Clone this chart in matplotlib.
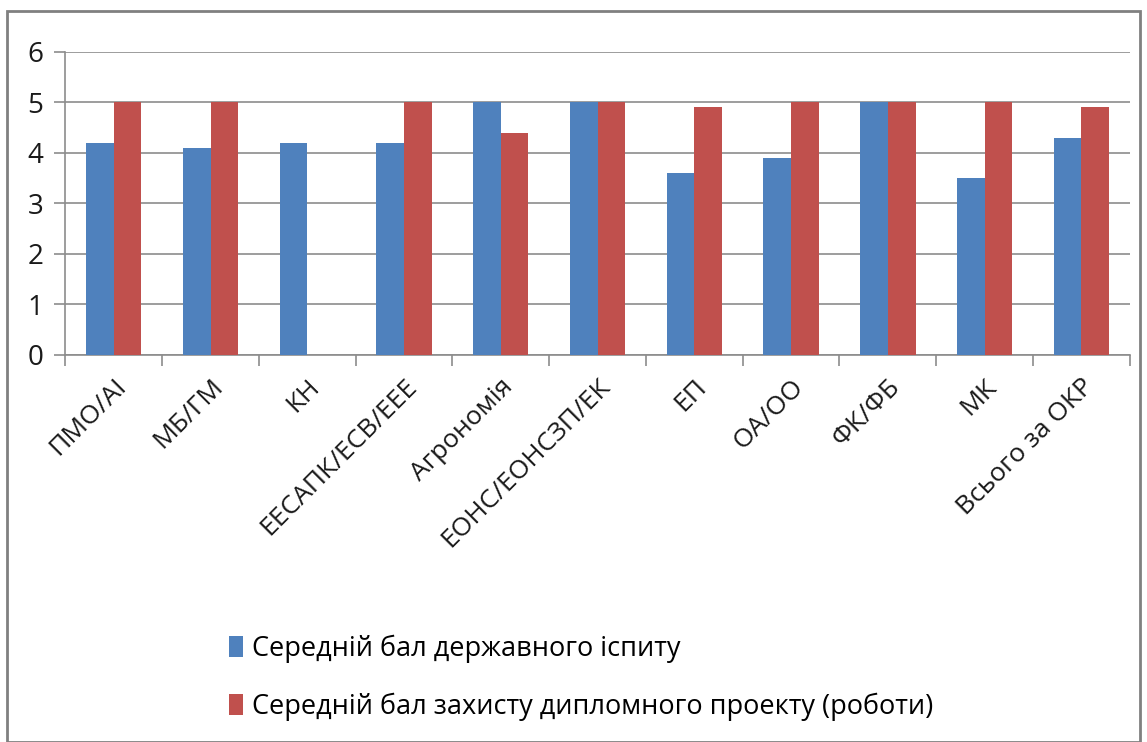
import matplotlib.pyplot as plt
import numpy as np
from matplotlib.patches import Rectangle

plt.rcParams['font.family'] = ['Open Sans', 'DejaVu Sans']

categories = ['ПМО/АІ', 'МБ/ГМ', 'КН', 'ЕЕСАПК/ЕСВ/ЕЕЕ', 'Агрономія',
              'ЕОНС/ЕОНСЗП/ЕК', 'ЕП', 'ОА/ОО', 'ФК/ФБ', 'МК', 'Всього за ОКР']
exam = [4.2, 4.1, 4.2, 4.2, 5.0, 5.0, 3.6, 3.9, 5.0, 3.5, 4.3]
thesis = [5.0, 5.0, 0, 5.0, 4.4, 5.0, 4.9, 5.0, 5.0, 5.0, 4.9]
series_names = ['Середній бал державного іспиту',
                'Середній бал захисту дипломного проекту (роботи)']

fig = plt.figure(figsize=(11.47, 7.42), dpi=100)
ax = fig.add_axes([0.057, 0.522, 0.928, 0.408])

x = np.arange(len(categories))
w = 0.286
b1 = ax.bar(x - w / 2, exam, w, color='#4f81bd', label=series_names[0], zorder=3)
b2 = ax.bar(x + w / 2, thesis, w, color='#c0504d', label=series_names[1], zorder=3)

ax.set_xlim(-0.5, len(categories) - 0.5)
ax.set_ylim(0, 6)
ax.set_yticks(range(7))
ax.yaxis.grid(True, color='#8c8c8c', linewidth=1.2, zorder=0)
for s in ['top', 'right']:
    ax.spines[s].set_visible(False)
for s in ['left', 'bottom']:
    ax.spines[s].set_color('#8c8c8c')
    ax.spines[s].set_linewidth(1.2)

ax.set_xticks(np.arange(len(categories) + 1) - 0.5)
ax.set_xticklabels([])
ax.set_xticks(x, minor=True)
ax.set_xticklabels(categories, minor=True, rotation=45, ha='right',
                   rotation_mode='anchor', fontsize=19, color='#1a1a1a')
ax.tick_params(axis='x', which='major', length=8, color='#8c8c8c', width=1.2)
ax.tick_params(axis='x', which='minor', length=0, pad=14)
ax.tick_params(axis='y', length=8, color='#8c8c8c', width=1.2, labelsize=20,
               pad=8, labelcolor='#1a1a1a')

fig.legend(handles=[b1, b2], loc='upper left', bbox_to_anchor=(0.178, 0.178),
           frameon=False, fontsize=19.5, handlelength=0.55, handleheight=0.8,
           handletextpad=0.3, labelspacing=1.1)

fig.patches.append(Rectangle((0.006, 0.0), 0.988, 0.985, transform=fig.transFigure,
                             fill=False, edgecolor='#808080', linewidth=2))

plt.savefig('out.png', dpi=100)
